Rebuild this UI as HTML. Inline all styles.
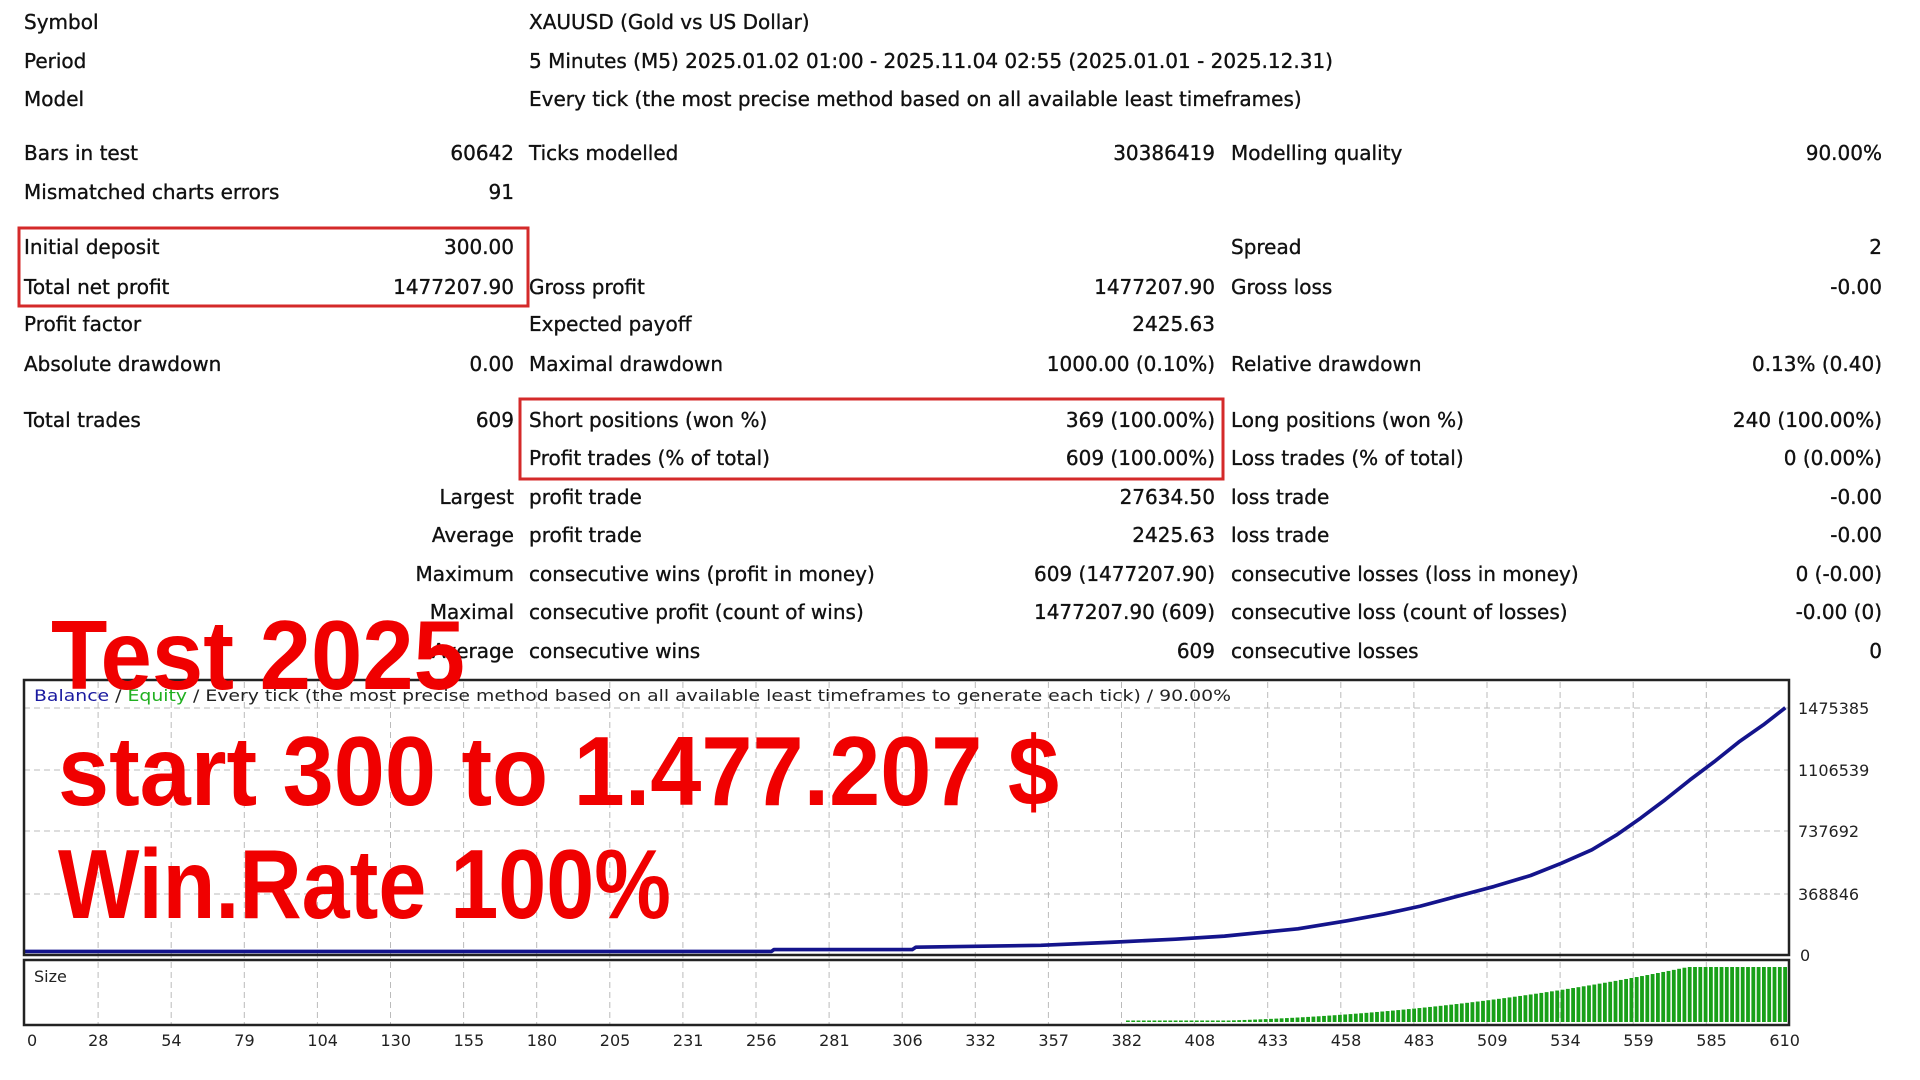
<!DOCTYPE html>
<html><head><meta charset="utf-8"><style>
html,body{margin:0;padding:0;background:#fff;}
svg{display:block;}
.t{font-family:"DejaVu Sans","Liberation Sans",sans-serif;font-size:20px;fill:#111;stroke:#111;stroke-width:0.35px;}
.r{text-anchor:end;}
.ax{font-family:"DejaVu Sans","Liberation Sans",sans-serif;font-size:16px;fill:#222;}
.big{font-family:"Liberation Sans Narrow","Liberation Sans",sans-serif;font-weight:bold;fill:#f00000;}
</style></head><body>
<svg id="s" width="1920" height="1080" viewBox="0 0 1920 1080" xmlns="http://www.w3.org/2000/svg">
<rect width="1920" height="1080" fill="#fff"/>
<g class="t">
<text x="24" y="29">Symbol</text><text x="529" y="29">XAUUSD (Gold vs US Dollar)</text>
<text x="24" y="68">Period</text><text x="529" y="68">5 Minutes (M5) 2025.01.02 01:00 - 2025.11.04 02:55 (2025.01.01 - 2025.12.31)</text>
<text x="24" y="106">Model</text><text x="529" y="106">Every tick (the most precise method based on all available least timeframes)</text>
<text x="24" y="160">Bars in test</text><text class="r" x="514" y="160">60642</text>
<text x="529" y="160">Ticks modelled</text><text class="r" x="1215" y="160">30386419</text>
<text x="1231" y="160">Modelling quality</text><text class="r" x="1882" y="160">90.00%</text>
<text x="24" y="199">Mismatched charts errors</text><text class="r" x="514" y="199">91</text>
<text x="24" y="254">Initial deposit</text><text class="r" x="514" y="254">300.00</text>
<text x="1231" y="254">Spread</text><text class="r" x="1882" y="254">2</text>
<text x="24" y="294">Total net profit</text><text class="r" x="514" y="294">1477207.90</text>
<text x="529" y="294">Gross profit</text><text class="r" x="1215" y="294">1477207.90</text>
<text x="1231" y="294">Gross loss</text><text class="r" x="1882" y="294">-0.00</text>
<text x="24" y="331">Profit factor</text>
<text x="529" y="331">Expected payoff</text><text class="r" x="1215" y="331">2425.63</text>
<text x="24" y="371">Absolute drawdown</text><text class="r" x="514" y="371">0.00</text>
<text x="529" y="371">Maximal drawdown</text><text class="r" x="1215" y="371">1000.00 (0.10%)</text>
<text x="1231" y="371">Relative drawdown</text><text class="r" x="1882" y="371">0.13% (0.40)</text>
<text x="24" y="427">Total trades</text><text class="r" x="514" y="427">609</text>
<text x="529" y="427">Short positions (won %)</text><text class="r" x="1215" y="427">369 (100.00%)</text>
<text x="1231" y="427">Long positions (won %)</text><text class="r" x="1882" y="427">240 (100.00%)</text>
<text x="529" y="465">Profit trades (% of total)</text><text class="r" x="1215" y="465">609 (100.00%)</text>
<text x="1231" y="465">Loss trades (% of total)</text><text class="r" x="1882" y="465">0 (0.00%)</text>
<text class="r" x="514" y="504">Largest</text><text x="529" y="504">profit trade</text><text class="r" x="1215" y="504">27634.50</text>
<text x="1231" y="504">loss trade</text><text class="r" x="1882" y="504">-0.00</text>
<text class="r" x="514" y="542">Average</text><text x="529" y="542">profit trade</text><text class="r" x="1215" y="542">2425.63</text>
<text x="1231" y="542">loss trade</text><text class="r" x="1882" y="542">-0.00</text>
<text class="r" x="514" y="581">Maximum</text><text x="529" y="581">consecutive wins (profit in money)</text><text class="r" x="1215" y="581">609 (1477207.90)</text>
<text x="1231" y="581">consecutive losses (loss in money)</text><text class="r" x="1882" y="581">0 (-0.00)</text>
<text class="r" x="514" y="619">Maximal</text><text x="529" y="619">consecutive profit (count of wins)</text><text class="r" x="1215" y="619">1477207.90 (609)</text>
<text x="1231" y="619">consecutive loss (count of losses)</text><text class="r" x="1882" y="619">-0.00 (0)</text>
<text class="r" x="514" y="658">Average</text><text x="529" y="658">consecutive wins</text><text class="r" x="1215" y="658">609</text>
<text x="1231" y="658">consecutive losses</text><text class="r" x="1882" y="658">0</text>
</g>
<rect x="19" y="228" width="509" height="78" fill="none" stroke="#d42a2a" stroke-width="3"/>
<rect x="520" y="399" width="703" height="80" fill="none" stroke="#d42a2a" stroke-width="3"/>
<g id="grid" stroke="#bbb" stroke-width="1" stroke-dasharray="6,4"></g>
<line x1="24" y1="708" x2="1789" y2="708" stroke="#bbb" stroke-dasharray="6,4"/>
<line x1="24" y1="770" x2="1789" y2="770" stroke="#bbb" stroke-dasharray="6,4"/>
<line x1="24" y1="831" x2="1789" y2="831" stroke="#bbb" stroke-dasharray="6,4"/>
<line x1="24" y1="894" x2="1789" y2="894" stroke="#bbb" stroke-dasharray="6,4"/>
<g id="bars" fill="#18a018"></g>
<g transform="scale(1.2245)">
<polyline fill="none" stroke="#14148c" stroke-width="3" stroke-linejoin="round" points="20,777 630,777 632,775.5 745,775.5 748,773.5 850,772 908,769.5 960,767 1000,764.5 1030,761.5 1060,758.5 1100,752 1130,746.5 1160,740 1190,732 1220,724 1250,715 1275,705 1300,694 1320,682 1340,668 1360,653 1380,637 1400,622 1420,606 1440,592 1458,578"/>
</g>
<rect x="24" y="680" width="1765" height="275" fill="none" stroke="#222" stroke-width="2.5"/>
<rect x="24" y="960" width="1765" height="65" fill="none" stroke="#222" stroke-width="2.5"/>
<text class="ax" x="34" y="701" textLength="1197" lengthAdjust="spacingAndGlyphs"><tspan fill="#1a1aa0">Balance</tspan> / <tspan fill="#20b020">Equity</tspan> / Every tick (the most precise method based on all available least timeframes to generate each tick) / 90.00%</text>
<text class="ax" x="34" y="982">Size</text>
<g class="ax">
<text x="1798" y="714">1475385</text>
<text x="1798" y="776">1106539</text>
<text x="1798" y="837">737692</text>
<text x="1798" y="900">368846</text>
<text x="1800" y="961">0</text>
</g>
<g id="xl" class="ax"></g>
<text class="big" x="51" y="689" font-size="98" textLength="414" lengthAdjust="spacingAndGlyphs">Test 2025</text>
<text class="big" x="58" y="805" font-size="98" textLength="1001" lengthAdjust="spacingAndGlyphs">start 300 to 1.477.207 $</text>
<text class="big" x="58" y="918" font-size="98" textLength="613" lengthAdjust="spacingAndGlyphs">Win.Rate 100%</text>
</svg>
<script>
var NS="http://www.w3.org/2000/svg";
var g=document.getElementById("grid"),xl=document.getElementById("xl"),b=document.getElementById("bars");
var labs=[0,28,54,79,104,130,155,180,205,231,256,281,306,332,357,382,408,433,458,483,509,534,559,585,610];
for(var i=0;i<labs.length;i++){
 var x=25+i*73.1;
 if(i>0&&i<24){var l=document.createElementNS(NS,"line");l.setAttribute("x1",x);l.setAttribute("x2",x);l.setAttribute("y1",682);l.setAttribute("y2",1025);g.appendChild(l);}
 var t=document.createElementNS(NS,"text");t.setAttribute("x",x+(i==0?2:-10));t.setAttribute("y",1046);t.textContent=labs[i];xl.appendChild(t);
}
for(var x=1126;x<1786;x+=5.3){
 var f=Math.min(1,(x-1126)/(1686-1126));var h=Math.max(1.5,55*Math.pow(f,2.1));
 var r=document.createElementNS(NS,"rect");r.setAttribute("x",x);r.setAttribute("width",3.8);r.setAttribute("y",1022-h);r.setAttribute("height",h);b.appendChild(r);
}
</script>
</body></html>
